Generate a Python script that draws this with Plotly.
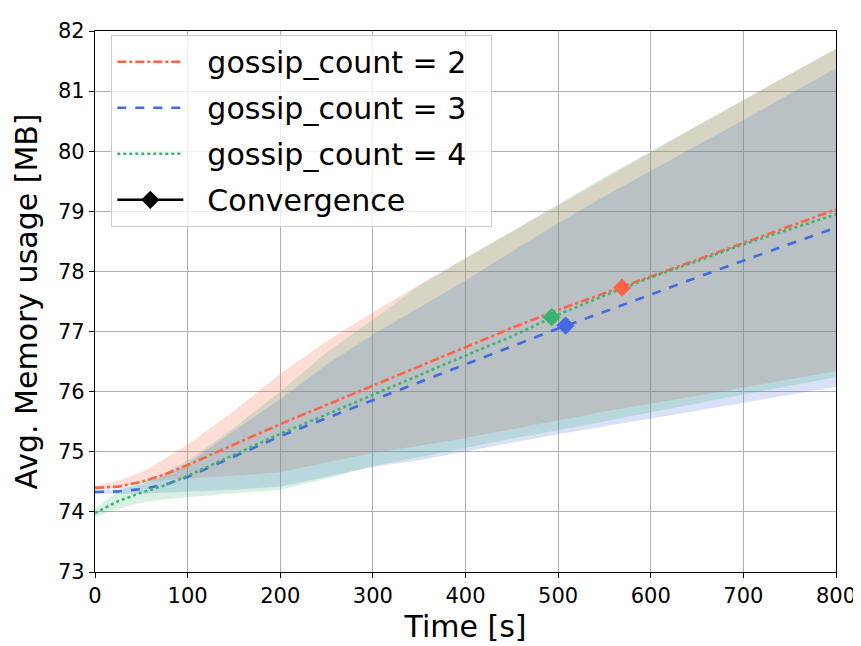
import plotly.graph_objects as go

t = [0, 25, 50, 75, 100, 150, 200, 250, 300, 350, 400, 450, 500, 550, 600, 650, 700, 750, 800]

g2_mean = [74.40, 74.42, 74.50, 74.62, 74.78, 75.12, 75.46, 75.78, 76.10, 76.42, 76.74, 77.06, 77.36, 77.64, 77.92, 78.20, 78.48, 78.75, 79.03]
g2_upper = [74.43, 74.52, 74.66, 74.88, 75.12, 75.68, 76.30, 76.84, 77.32, 77.78, 78.22, 78.66, 79.10, 79.55, 79.98, 80.42, 80.85, 81.28, 81.71]
g2_lower = [74.37, 74.40, 74.48, 74.53, 74.55, 74.60, 74.66, 74.82, 74.98, 75.10, 75.23, 75.37, 75.52, 75.67, 75.80, 75.93, 76.06, 76.20, 76.34]

g3_mean = [74.33, 74.34, 74.38, 74.45, 74.58, 74.92, 75.26, 75.56, 75.86, 76.16, 76.46, 76.76, 77.05, 77.33, 77.62, 77.90, 78.18, 78.46, 78.73]
g3_upper = [74.36, 74.38, 74.45, 74.60, 74.80, 75.35, 75.88, 76.45, 76.95, 77.40, 77.85, 78.33, 78.80, 79.25, 79.67, 80.10, 80.52, 80.95, 81.38]
g3_lower = [74.30, 74.30, 74.30, 74.31, 74.33, 74.37, 74.42, 74.58, 74.75, 74.86, 75.00, 75.15, 75.29, 75.43, 75.56, 75.69, 75.82, 75.95, 76.08]

g4_mean = [73.98, 74.18, 74.32, 74.44, 74.60, 74.95, 75.30, 75.62, 75.95, 76.28, 76.60, 76.92, 77.28, 77.60, 77.90, 78.17, 78.45, 78.70, 78.95]
g4_upper = [74.05, 74.35, 74.50, 74.65, 74.85, 75.40, 76.00, 76.65, 77.20, 77.76, 78.22, 78.67, 79.12, 79.57, 80.00, 80.43, 80.86, 81.28, 81.70]
g4_lower = [73.92, 74.05, 74.15, 74.21, 74.25, 74.31, 74.37, 74.55, 74.76, 74.92, 75.07, 75.22, 75.36, 75.51, 75.66, 75.80, 75.95, 76.10, 76.24]

conv_t = [569, 508, 493]
conv_v = [77.73, 77.10, 77.24]

labels = ["gossip_count = 2", "gossip_count = 3", "gossip_count = 4"]
conv_label = "Convergence"
colors = ["#FF6347", "#4169E1", "#3CB371"]
fills = ["rgba(255,99,71,0.22)", "rgba(65,105,225,0.2)", "rgba(60,179,113,0.2)"]
dashes = ["dashdot", "dash", "dot"]
means = [g2_mean, g3_mean, g4_mean]
uppers = [g2_upper, g3_upper, g4_upper]
lowers = [g2_lower, g3_lower, g4_lower]

PAD = "\u00a0\u00a0"


def legend_name(s):
    return PAD + s + PAD


fig = go.Figure()

for i in range(3):
    fig.add_trace(go.Scatter(
        x=t + t[::-1], y=uppers[i] + lowers[i][::-1],
        fill="toself", fillcolor=fills[i], line=dict(width=0),
        mode="lines", showlegend=False, hoverinfo="skip"))

for i in range(3):
    fig.add_trace(go.Scatter(
        x=t, y=means[i], mode="lines", name=legend_name(labels[i]),
        legendgroup=labels[i],
        line=dict(color=colors[i], width=2.6, dash=dashes[i])))

for i in range(3):
    fig.add_trace(go.Scatter(
        x=[conv_t[i]], y=[conv_v[i]], mode="markers", showlegend=False,
        marker=dict(symbol="diamond", size=14, color=colors[i])))

fig.add_trace(go.Scatter(
    x=[None], y=[None], mode="lines+markers", name=legend_name(conv_label),
    legendgroup="conv",
    line=dict(color="black", width=2.6),
    marker=dict(symbol="diamond", size=14, color="black")))

axis_common = dict(
    showline=True, mirror=True, linecolor="black", linewidth=1.2,
    ticks="outside", ticklen=5, tickwidth=1.2, tickcolor="black",
    showgrid=True, gridcolor="#b0b0b0", gridwidth=1.2,
    zeroline=False, tickfont=dict(size=21, color="black"),
    ticklabeloverflow="allow",
)

fig.update_layout(
    width=861, height=646,
    margin=dict(l=87, r=33, t=11, b=82),
    paper_bgcolor="white", plot_bgcolor="white",
    font=dict(family="DejaVu Sans", color="black"),
    xaxis=dict(range=[0, 800], dtick=100, title=dict(text="Time [s]", font=dict(size=30), standoff=8), **axis_common),
    yaxis=dict(range=[73, 82], dtick=1, title=dict(text="Avg. Memory usage [MB]", font=dict(size=30), standoff=11), **axis_common),
    legend=dict(x=0.022, y=0.993, xanchor="left", yanchor="top",
                bgcolor="rgba(255,255,255,0.8)", bordercolor="#cccccc", borderwidth=1,
                font=dict(size=30), tracegroupgap=4, itemwidth=66),
    showlegend=True,
)

fig.write_html("out.html")
